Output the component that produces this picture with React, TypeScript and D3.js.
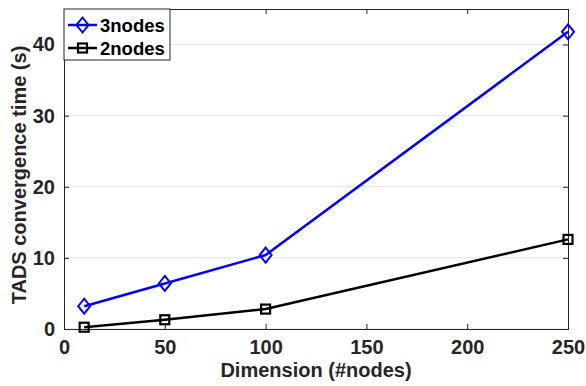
import React, { useEffect, useRef } from "react";
import * as d3 from "d3";

const dims = [10, 50, 100, 250];
const nodes3 = [3.2, 6.4, 10.4, 41.8];
const nodes2 = [0.25, 1.3, 2.8, 12.6];
const xTicks = [0, 50, 100, 150, 200, 250];
const yTicks = [0, 10, 20, 30, 40];

const W = 586;
const H = 386;
const M = { left: 64, right: 18, top: 9, bottom: 57 };
const FONT = "'Liberation Sans', Arial, sans-serif";
const AX = "#262626";

const App = () => {
  const svgRef = useRef<SVGSVGElement>(null);

  useEffect(() => {
    const svg = d3.select(svgRef.current);
    svg.selectAll("*").remove();

    const iw = W - M.left - M.right;
    const ih = H - M.top - M.bottom;

    const x = d3.scaleLinear().domain([0, 250]).range([0, iw]);
    const y = d3.scaleLinear().domain([0, 45]).range([ih, 0]);

    const g = svg.append("g").attr("transform", `translate(${M.left},${M.top})`);

    // horizontal grid
    g.append("g")
      .selectAll("line")
      .data(yTicks)
      .enter()
      .append("line")
      .attr("x1", 0)
      .attr("x2", iw)
      .attr("y1", (d) => y(d))
      .attr("y2", (d) => y(d))
      .attr("stroke", "#e3e3e3")
      .attr("stroke-width", 1);

    // axes, ticks pointing inward
    const xAxis = g
      .append("g")
      .attr("transform", `translate(0,${ih})`)
      .call(d3.axisBottom(x).tickValues(xTicks).tickSize(-5).tickPadding(11));
    const yAxis = g
      .append("g")
      .call(d3.axisLeft(y).tickValues(yTicks).tickSize(-5).tickPadding(9));
    g.append("g").call(d3.axisTop(x).tickValues(xTicks).tickSize(-5).tickFormat(() => ""));
    g.append("g")
      .attr("transform", `translate(${iw},0)`)
      .call(d3.axisRight(y).tickValues(yTicks).tickSize(-5).tickFormat(() => ""));

    g.selectAll(".domain").attr("stroke", AX).attr("stroke-width", 1);
    g.selectAll(".tick line").attr("stroke", AX);
    [xAxis, yAxis].forEach((a) =>
      a
        .selectAll("text")
        .attr("fill", AX)
        .style("font-family", FONT)
        .style("font-size", "20px")
        .style("font-weight", "bold")
    );

    const line = d3
      .line<number>()
      .x((d, i) => x(dims[i]))
      .y((d) => y(d));

    const series = [
      { name: "3nodes", vals: nodes3, color: "#0000ff", shape: "diamond" },
      { name: "2nodes", vals: nodes2, color: "#000000", shape: "square" },
    ];

    const drawMarker = (sel: any, shape: string, color: string, cx: number, cy: number) => {
      if (shape === "diamond") {
        sel.append("path")
          .attr("d", `M${cx},${cy - 7.5} L${cx + 6},${cy} L${cx},${cy + 7.5} L${cx - 6},${cy} Z`)
          .attr("fill", "none")
          .attr("stroke", color)
          .attr("stroke-width", 2);
      } else {
        sel.append("rect")
          .attr("x", cx - 4.5)
          .attr("y", cy - 4.5)
          .attr("width", 9)
          .attr("height", 9)
          .attr("fill", "none")
          .attr("stroke", color)
          .attr("stroke-width", 2.2);
      }
    };

    series.slice().reverse().forEach((s) => {
      g.append("path")
        .datum(s.vals)
        .attr("d", line)
        .attr("fill", "none")
        .attr("stroke", s.color)
        .attr("stroke-width", 2.5);
      s.vals.forEach((v, i) => drawMarker(g, s.shape, s.color, x(dims[i]), y(v)));
    });

    // legend
    const lg = svg.append("g").attr("transform", `translate(${M.left},${M.top})`);
    lg.append("rect")
      .attr("x", 0)
      .attr("y", 0)
      .attr("width", 106)
      .attr("height", 51)
      .attr("fill", "#fff")
      .attr("stroke", AX)
      .attr("stroke-width", 1);
    series.forEach((s, i) => {
      const ly = 16 + i * 23;
      lg.append("line")
        .attr("x1", 4)
        .attr("x2", 33)
        .attr("y1", ly)
        .attr("y2", ly)
        .attr("stroke", s.color)
        .attr("stroke-width", 2.5);
      drawMarker(lg, s.shape, s.color, 18.5, ly);
      lg.append("text")
        .attr("x", 36)
        .attr("y", ly + 6.5)
        .attr("fill", "#000")
        .style("font-family", FONT)
        .style("font-size", "18.5px")
        .style("font-weight", "bold")
        .text(s.name);
    });

    // axis labels
    svg.append("text")
      .attr("x", M.left + iw / 2)
      .attr("y", 377)
      .attr("text-anchor", "middle")
      .attr("fill", AX)
      .style("font-family", FONT)
      .style("font-size", "20px")
      .style("font-weight", "bold")
      .text("Dimension (#nodes)");

    svg.append("text")
      .attr("transform", `translate(26,${M.top + ih / 2 + 6}) rotate(-90)`)
      .attr("text-anchor", "middle")
      .attr("fill", AX)
      .style("font-family", FONT)
      .style("font-size", "20px")
      .style("font-weight", "bold")
      .text("TADS convergence time (s)");
  }, []);

  return (
    <svg
      ref={svgRef}
      width={W}
      height={H}
      style={{ position: "absolute", left: 0, top: 0, background: "#fff" }}
    ></svg>
  );
};

export default App;
